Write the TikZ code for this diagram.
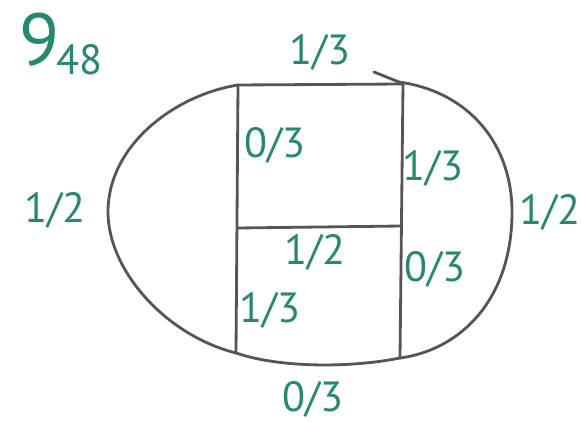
\documentclass[tikz,border=0pt]{standalone}
\usepackage{fontspec}
\setmainfont{PT Sans}
\usetikzlibrary{positioning}
\definecolor{inkgreen}{RGB}{38,136,108}
\definecolor{inkgray}{RGB}{85,85,85}

\begin{document}
\begin{tikzpicture}[x=0.02cm,y=-0.02cm,
  wire/.style={draw=inkgray,line width=1.6pt,line cap=round,line join=round},
  frac/.style={text=inkgreen,font=\fontsize{24}{27}\selectfont,inner sep=0pt}]
\useasboundingbox (0,0) rectangle (581,422);
% corners of the two boxes
\coordinate (tl) at (238,85);
\coordinate (tr) at (403,84);
\coordinate (ml) at (238,228);
\coordinate (mr) at (402,226);
\coordinate (bl) at (236,353);
\coordinate (br) at (400,358);
\coordinate (hook) at (374,72);
\coordinate (hook_end) at (399,82);
\coordinate (far_l) at (108,212);
\coordinate (far_r) at (512,212);
% inner lines
\draw[wire] (tl) -- (tr);
\draw[wire] (tl) -- (bl);
\draw[wire] (tr) -- (br);
\draw[wire] (ml) -- (mr);
% outer arcs
\draw[wire] (tl) .. controls (175,95) and (108,145) .. (far_l) .. controls (108,270) and (165,335) .. (bl);
\draw[wire] (bl) .. controls (280,368) and (350,368) .. (br);
\draw[wire] (hook) -- (hook_end) .. controls (470,92) and (512,145) .. (far_r) .. controls (512,300) and (460,350) .. (br);
% labels
\node[text=inkgreen,font=\fontsize{42}{46}\selectfont,inner sep=0pt] (knot) at (40,40) {9};
\node[text=inkgreen,font=\fontsize{24}{26}\selectfont,inner sep=0pt] (knot_sub) at (79,60) {48};
\node[frac] (f_top) at (320,52) {1/3};
\node[frac] (f_ul) at (275,145) {0/3};
\node[frac] (f_ur) at (433,168) {1/3};
\node[frac] (f_left) at (55,210) {1/2};
\node[frac] (f_right) at (550,212) {1/2};
\node[frac] (f_mid) at (315,252) {1/2};
\node[frac] (f_lr) at (435,269) {0/3};
\node[frac] (f_ll) at (270,310) {1/3};
\node[frac] (f_bot) at (313,399) {0/3};
\end{tikzpicture}
\end{document}
